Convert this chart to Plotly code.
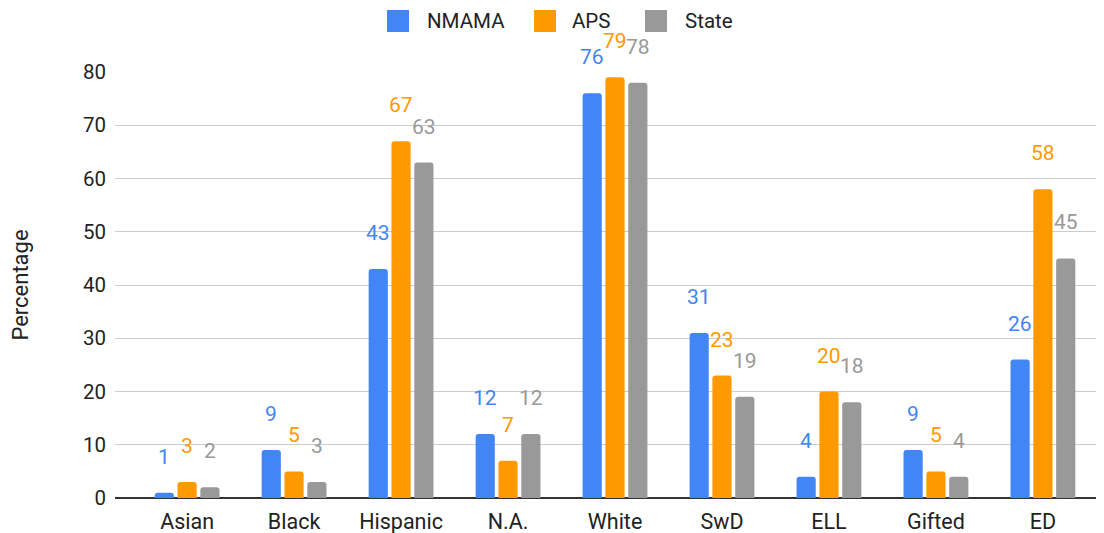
import plotly.graph_objects as go

categories = ["Asian", "Black", "Hispanic", "N.A.", "White", "SwD", "ELL", "Gifted", "ED"]
nmama = [1, 9, 43, 12, 76, 31, 4, 9, 26]
aps = [3, 5, 67, 7, 79, 23, 20, 5, 58]
state = [2, 3, 63, 12, 78, 19, 18, 4, 45]
series_names = ["NMAMA", "APS", "State"]
colors = ["#4285F4", "#FF9900", "#999999"]
y_ticks = [0, 10, 20, 30, 40, 50, 60, 70, 80]

FONT = "Roboto, Arial, sans-serif"
TXT = "#222222"
fig = go.Figure()
annotations = []
shapes = []
slot = 22.7
for k, (name, vals, col) in enumerate(zip(series_names, [nmama, aps, state], colors)):
    fig.add_trace(go.Bar(
        name=name, x=categories, y=vals, showlegend=False,
        marker=dict(color=col, cornerradius=3, line=dict(width=0)),
    ))
    for c, v in zip(categories, vals):
        annotations.append(dict(
            x=c, y=v, xref="x", yref="y", text=str(v), showarrow=False,
            xshift=(k - 1) * slot, yshift=36, yanchor="middle",
            font=dict(family=FONT, size=21, color=col),
        ))

# legend (drawn at top centre, paper coordinates)
leg_sq = [(0.2750, 0.2973), (0.4237, 0.4459), (0.5359, 0.5581)]
leg_tx = [0.3134, 0.4601, 0.5743]
for name, col, (x0, x1), tx in zip(series_names, colors, leg_sq, leg_tx):
    shapes.append(dict(type="rect", xref="paper", yref="paper", x0=x0, x1=x1,
                       y0=1.0939, y1=1.1455, fillcolor=col, line=dict(width=0)))
    annotations.append(dict(x=tx, y=1.1197, xref="paper", yref="paper", text=name,
                            showarrow=False, xanchor="left", yanchor="middle",
                            font=dict(family=FONT, size=20.5, color=TXT)))

fig.update_layout(
    width=1096, height=525,
    margin=dict(l=107, r=0, t=64, b=35),
    paper_bgcolor="white", plot_bgcolor="white",
    barmode="group", bargap=0.36, bargroupgap=0.16,
    font=dict(family=FONT, size=20, color=TXT),
    showlegend=False,
    annotations=annotations,
    shapes=shapes,
)
fig.update_xaxes(
    type="category", range=[-0.674, 8.571], showgrid=False,
    showline=False, ticks="", ticklabelstandoff=8,
    tickfont=dict(size=21.5, color=TXT),
)
fig.update_yaxes(
    range=[0, 80], tickvals=y_ticks, showgrid=True, gridcolor="#CCCCCC", gridwidth=1.3,
    zeroline=True, zerolinecolor="#333333", zerolinewidth=2,
    showline=False, ticks="", ticklabelstandoff=8,
    tickfont=dict(size=20.5, color=TXT),
    title=dict(text="Percentage", font=dict(size=22, color=TXT), standoff=50),
)
fig.write_html("out.html")
